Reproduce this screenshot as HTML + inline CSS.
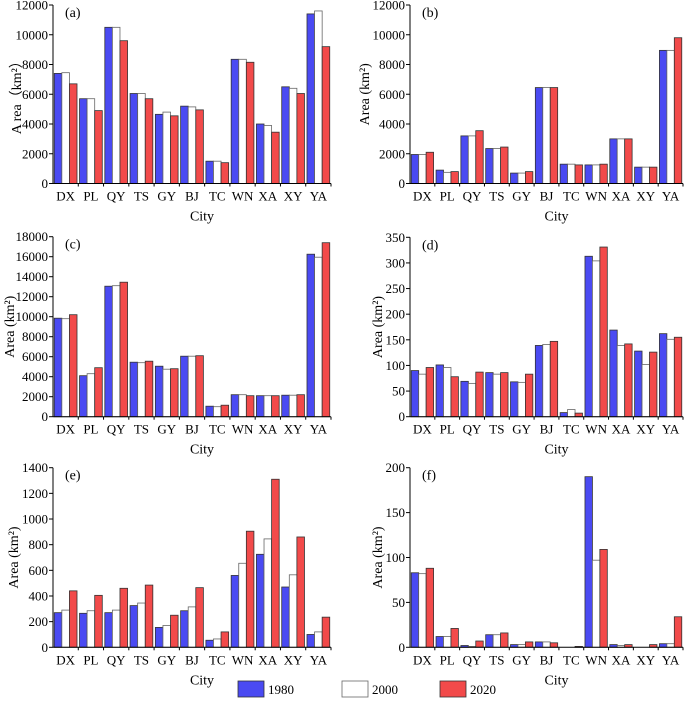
<!DOCTYPE html>
<html><head><meta charset="utf-8"><style>
body{margin:0;background:#fff}
svg{display:block;font-family:"Liberation Serif",serif}
</style></head><body>
<svg id="c" width="685" height="705" viewBox="0 0 685 705"></svg>
<script>
const cities=["DX","PL","QY","TS","GY","BJ","TC","WN","XA","XY","YA"];
const years=["1980","2000","2020"];
const colors=["#4a4af2","#ffffff","#f24a4a"];
const aV1980=[7400,5700,10500,6050,4650,5200,1500,8350,4000,6500,11400];
const aV2000=[7450,5700,10500,6050,4800,5150,1500,8350,3900,6400,11600];
const aV2020=[6700,4900,9600,5700,4550,4950,1400,8150,3450,6050,9200];
const bV1980=[1950,900,3200,2350,700,6450,1300,1250,3000,1100,8950];
const bV2000=[1950,750,3200,2350,700,6450,1300,1250,3000,1100,8950];
const bV2020=[2100,800,3550,2450,800,6450,1250,1300,3000,1100,9800];
const cV1980=[9850,4100,13050,5450,5050,6050,1050,2200,2100,2150,16250];
const cV2000=[9800,4300,13100,5400,4750,6050,1000,2200,2100,2150,15950];
const cV2020=[10200,4900,13450,5550,4800,6100,1150,2100,2100,2200,17400];
const dV1980=[90,101,69,86,68,139,8,313,169,128,162];
const dV2000=[83,96,65,83,67,141,14,304,139,102,151];
const dV2020=[96,78,87,86,83,147,7,331,142,126,155];
const eV1980=[270,265,270,325,155,285,55,560,725,470,100];
const eV2000=[290,285,290,345,170,315,65,655,845,565,120];
const eV2020=[440,405,460,485,250,465,120,905,1310,860,235];
const fV1980=[83,12,2,14,3,6,0,190,3,0,4];
const fV2000=[82,12,1,14,3,6,0,97,2,0,4];
const fV2020=[88,21,7,16,6,5,1,109,3,3,34];
const aTicks=[0,2000,4000,6000,8000,10000,12000];
const bTicks=[0,2000,4000,6000,8000,10000,12000];
const cTicks=[0,2000,4000,6000,8000,10000,12000,14000,16000,18000];
const dTicks=[0,50,100,150,200,250,300,350];
const eTicks=[0,200,400,600,800,1000,1200,1400];
const fTicks=[0,50,100,150,200];
const NS="http://www.w3.org/2000/svg";
const svg=document.getElementById("c");
function mk(tag,attrs,parent,text){const e=document.createElementNS(NS,tag);for(const k in attrs)e.setAttribute(k,attrs[k]);if(text!==undefined)e.textContent=text;(parent||svg).appendChild(e);return e;}
const panels=[
 {id:"a",x0:53,x1:331,top:5,bot:183.5,ticks:aTicks,series:[aV1980,aV2000,aV2020],lx:16,ylabel:"A rea（km²）"},
 {id:"b",x0:410,x1:683,top:5,bot:183.5,ticks:bTicks,series:[bV1980,bV2000,bV2020],lx:364,ylabel:"Area (km²)"},
 {id:"c",x0:53,x1:331,top:236.7,bot:416.7,ticks:cTicks,series:[cV1980,cV2000,cV2020],lx:9,ylabel:"Area (km²)"},
 {id:"d",x0:410,x1:683,top:237.3,bot:416.7,ticks:dTicks,series:[dV1980,dV2000,dV2020],lx:377,ylabel:"Area (km²)"},
 {id:"e",x0:53,x1:331,top:467.7,bot:647.3,ticks:eTicks,series:[eV1980,eV2000,eV2020],lx:13,ylabel:"Area (km²)"},
 {id:"f",x0:410,x1:683,top:467.7,bot:647.3,ticks:fTicks,series:[fV1980,fV2000,fV2020],lx:377,ylabel:"Area (km²)"}
];
panels.forEach(p=>{
 const g=mk("g",{});
 
 
 const max=p.ticks[p.ticks.length-1];
 const y=v=>p.bot-(v/max)*(p.bot-p.top);
 const band=(p.x1-p.x0)/cities.length;
 const bw=band*0.3;
 cities.forEach((c,i)=>{
  const gx=p.x0+i*band+band*0.05;
  p.series.forEach((s,k)=>{
   const yy=y(s[i]);
   const r=mk("rect",{x:gx+k*bw,y:yy,width:bw,height:Math.max(0,p.bot-yy),fill:colors[k],stroke:k==1?"#666":"#333","stroke-width":0.8},g);
   
   
  });
  const t=mk("text",{x:p.x0+(i+0.5)*band,y:p.bot+17,"text-anchor":"middle","font-size":13},g,c);
  
  
  mk("line",{x1:p.x0+(i+1)*band,x2:p.x0+(i+1)*band,y1:p.bot,y2:p.bot+3,stroke:"#000"},g);
 });
 p.ticks.forEach(v=>{
  mk("line",{x1:p.x0-4,x2:p.x0,y1:y(v),y2:y(v),stroke:"#000"},g);
  const t=mk("text",{x:p.x0-5,y:y(v)+4.5,"text-anchor":"end","font-size":13},g,v);
  
  
 });
 mk("line",{x1:p.x0,x2:p.x0,y1:p.top,y2:p.bot,stroke:"#000"},g);
 mk("line",{x1:p.x0,x2:p.x1,y1:p.bot,y2:p.bot,stroke:"#000"},g);
 const pl=mk("text",{x:p.x0+12,y:p.top+12,"font-size":14},g,"("+p.id+")");
 
 
 const xl=mk("text",{x:(p.x0+p.x1)/2+10,y:p.bot+37,"text-anchor":"middle","font-size":14},g,"City");
 
 
 const cy=(p.top+p.bot)/2;
 const yl=mk("text",{x:p.lx,y:cy,"text-anchor":"middle","font-size":14,transform:`rotate(-90 ${p.lx} ${cy})`,dy:5},g,p.ylabel);
 
 
});
const lx=[238,342,440];
years.forEach((yr,k)=>{
 const r=mk("rect",{x:lx[k],y:681,width:26,height:16,fill:colors[k],stroke:k==1?"#666":"#333","stroke-width":0.8});
 
 
 const t=mk("text",{x:lx[k]+30,y:694,"font-size":13},svg,yr);
 
 
});
</script>
</body></html>
